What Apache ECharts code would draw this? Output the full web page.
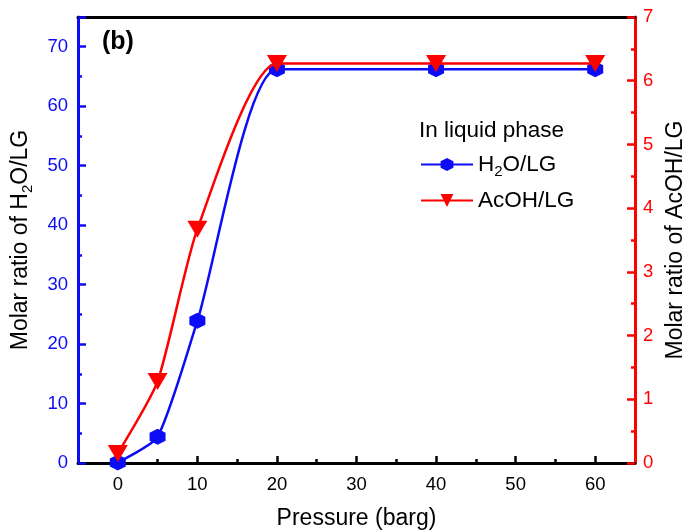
<!DOCTYPE html>
<html>
<head>
<meta charset="utf-8">
<script src="https://cdn.jsdelivr.net/npm/echarts@6/dist/echarts.min.js"></script>
<style>
  html, body { margin: 0; padding: 0; background: #fff; }
  #chart { width: 685px; height: 531px; }
</style>
</head>
<body>
<div id="chart"></div>
<script>
// Pressure (barg) values where samples were taken
const pressure = [0, 5, 10, 20, 40, 60];
// Molar ratio of H2O to LG in the liquid phase (left axis)
const h2oRatio = [0.1, 4.4, 23.9, 66.2, 66.2, 66.2];
// Molar ratio of AcOH to LG in the liquid phase (right axis)
const acohRatio = [0.15, 1.28, 3.67, 6.27, 6.27, 6.27];
// Tick positions on the pressure axis
const xMajorTicks = [0, 10, 20, 30, 40, 50, 60];
const xMinorTicks = [5, 15, 25, 35, 45, 55];

const BLUE = '#0c0cf5';
const RED = '#ff0000';
const FONT = 'Liberation Sans, Arial, sans-serif';
const hexagon = 'path://M0,-1L0.866,-0.5L0.866,0.5L0,1L-0.866,0.5L-0.866,-0.5Z';

const chart = echarts.init(document.getElementById('chart'), null, { renderer: 'canvas' });

const option = {
  animation: false,
  textStyle: { fontFamily: FONT },
  grid: { left: 78, right: 50, top: 17, bottom: 68, containLabel: false, outerBoundsMode: 'none' },
  title: [
    { text: '(b)', left: 102, top: 30, padding: 0, textStyle: { fontFamily: FONT, fontSize: 25, fontWeight: 'bold', color: '#000' } },
    { text: 'In liquid phase', left: 419, top: 119, padding: 0, textStyle: { fontFamily: FONT, fontSize: 22.5, fontWeight: 'normal', color: '#000' } }
  ],
  legend: {
    orient: 'vertical',
    left: 420,
    top: 153,
    padding: 0,
    itemWidth: 52,
    itemHeight: 16,
    itemGap: 10,
    textStyle: {
      fontFamily: FONT, fontSize: 22.5, color: '#000',
      rich: {
        n: { fontFamily: FONT, fontSize: 22.5, color: '#000' },
        sub: { fontFamily: FONT, fontSize: 15, color: '#000', padding: [14, 0, 0, 0] }
      }
    },
    formatter: function (name) {
      if (name === 'H2O/LG') return '{n|H}{sub|2}{n|O/LG}';
      return '{n|' + name + '}';
    },
    data: ['H2O/LG', 'AcOH/LG']
  },
  xAxis: [
    {
      type: 'value', min: -5, max: 65, position: 'bottom',
      name: 'Pressure (barg)', nameLocation: 'middle', nameGap: 44,
      nameTextStyle: { fontFamily: FONT, fontSize: 23, color: '#000' },
      axisLine: { show: true, onZero: false, lineStyle: { color: '#000', width: 3 } },
      axisTick: { show: true, inside: true, length: 7, lineStyle: { color: '#000', width: 2.5 }, customValues: xMajorTicks },
      axisLabel: { show: true, color: '#000', fontSize: 18.5, fontFamily: FONT, margin: 12, customValues: xMajorTicks },
      splitLine: { show: false }
    },
    {
      type: 'value', min: -5, max: 65, position: 'bottom',
      axisLine: { show: false, onZero: false },
      axisTick: { show: true, inside: true, length: 4, lineStyle: { color: '#000', width: 2.5 }, customValues: xMinorTicks },
      axisLabel: { show: false },
      splitLine: { show: false }
    },
    {
      type: 'value', min: -5, max: 65, position: 'top',
      axisLine: { show: true, onZero: false, lineStyle: { color: '#000', width: 3 } },
      axisTick: { show: false },
      axisLabel: { show: false },
      splitLine: { show: false }
    }
  ],
  yAxis: [
    {
      type: 'value', min: 0, max: 75, interval: 10, position: 'left',
      name: 'Molar ratio of H{sub|2}O/LG', nameLocation: 'middle', nameGap: 43, nameRotate: 90,
      nameTextStyle: {
        fontFamily: FONT, fontSize: 23, color: '#000',
        rich: { sub: { fontFamily: FONT, fontSize: 15, color: '#000', padding: [14, 0, 0, 0] } }
      },
      axisLine: { show: true, onZero: false, lineStyle: { color: BLUE, width: 3 } },
      axisTick: { show: true, inside: true, length: 8, lineStyle: { color: BLUE, width: 2.5 } },
      minorTick: { show: true, splitNumber: 2, length: 4, lineStyle: { color: BLUE, width: 2.5 } },
      axisLabel: { color: BLUE, fontSize: 18.5, fontFamily: FONT, margin: 10, showMaxLabel: false },
      splitLine: { show: false }
    },
    {
      type: 'value', min: 0, max: 7, interval: 1, position: 'right',
      name: 'Molar ratio of AcOH/LG', nameLocation: 'middle', nameGap: 28, nameRotate: 90,
      nameTextStyle: { fontFamily: FONT, fontSize: 23, color: '#000' },
      axisLine: { show: true, onZero: false, lineStyle: { color: RED, width: 3 } },
      axisTick: { show: true, inside: true, length: 8, lineStyle: { color: RED, width: 2.5 } },
      minorTick: { show: true, splitNumber: 2, length: 4, lineStyle: { color: RED, width: 2.5 } },
      axisLabel: { color: RED, fontSize: 18.5, fontFamily: FONT, margin: 8 },
      splitLine: { show: false }
    }
  ],
  series: [
    {
      name: 'H2O/LG', type: 'line', xAxisIndex: 0, yAxisIndex: 0,
      data: pressure.map((p, i) => [p, h2oRatio[i]]),
      smooth: 0.2,
      symbol: hexagon, symbolSize: 16,
      lineStyle: { color: BLUE, width: 2.5 },
      itemStyle: { color: BLUE, borderWidth: 0 },
      z: 3
    },
    {
      name: 'AcOH/LG', type: 'line', xAxisIndex: 0, yAxisIndex: 1,
      data: pressure.map((p, i) => [p, acohRatio[i]]),
      smooth: 0.2,
      symbol: 'triangle', symbolRotate: 180, symbolSize: [20, 17],
      lineStyle: { color: RED, width: 2.5 },
      itemStyle: { color: RED, borderWidth: 0 },
      z: 4
    }
  ]
};

chart.setOption(option);
</script>
</body>
</html>
